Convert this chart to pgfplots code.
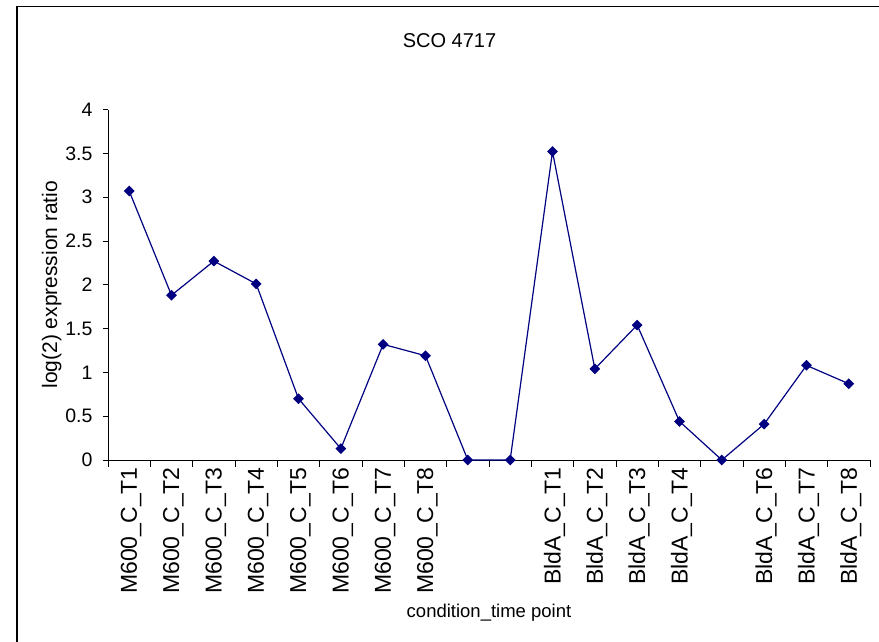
\documentclass[border=0pt]{standalone}
\usepackage{fontspec}
\setmainfont{Liberation Sans}
\usepackage{pgfplots}
\pgfplotsset{compat=1.18}
\definecolor{navy}{RGB}{0,0,128}
\newcommand{\us}{{\char95}}
\begin{document}
\begin{tikzpicture}[x=1pt,y=1pt]
\useasboundingbox (-108,-182) rectangle (771,460);
\begin{axis}[
  at={(0,0)}, anchor=south west,
  scale only axis, width=762pt, height=350.5pt,
  xmin=0.5, xmax=18.5, ymin=0, ymax=4,
  axis lines=left, axis line style={-, black, line width=0.8pt},
  clip=false,
  tick align=outside,
  major tick length=5pt, minor tick length=7pt,
  tick style={black, line width=0.8pt},
  xtick={1,...,18},
  major x tick style={draw=none},
  minor xtick={0.5,1.5,...,18.5},
  xticklabels={M600\us C\us T1,M600\us C\us T2,M600\us C\us T3,M600\us C\us T4,M600\us C\us T5,M600\us C\us T6,M600\us C\us T7,M600\us C\us T8,{},{},BldA\us C\us T1,BldA\us C\us T2,BldA\us C\us T3,BldA\us C\us T4,{},BldA\us C\us T6,BldA\us C\us T7,BldA\us C\us T8},
  every x tick label/.append style={rotate=90, anchor=east, inner sep=2pt, yshift=-2pt, font=\fontsize{23}{27}\selectfont},
  every y tick label/.append style={xshift=-7pt, font=\fontsize{19.5}{23}\selectfont},
  ytick={0,0.5,...,4},
  /pgf/number format/assume math mode=true,
  title={SCO 4717},
  title style={at={(axis description cs:0.4482,1.16)}, anchor=base, font=\fontsize{20}{24}\selectfont},
  xlabel={condition\us time point},
  xlabel style={at={(axis description cs:0.5,-0.448)}, anchor=base, font=\fontsize{18.5}{22}\selectfont},
  ylabel={log(2) expression ratio},
  ylabel style={at={(axis description cs:-0.0669,0.5)}, anchor=base, rotate=0, font=\fontsize{21}{25}\selectfont},
]
\addplot[navy, line width=1.2pt, mark=square*, mark size=3.2pt, mark options={rotate=45, fill=navy, draw=navy}] table {
x y
1 3.07
2 1.88
3 2.27
4 2.01
5 0.70
6 0.13
7 1.32
8 1.19
9 0
10 0
11 3.52
12 1.04
13 1.54
14 0.44
15 0
16 0.41
17 1.08
18 0.87
};
\end{axis}
\draw[line width=1.3pt] (-91,-200) -- (-91,453.5) -- (800,453.5);
\end{tikzpicture}
\end{document}
